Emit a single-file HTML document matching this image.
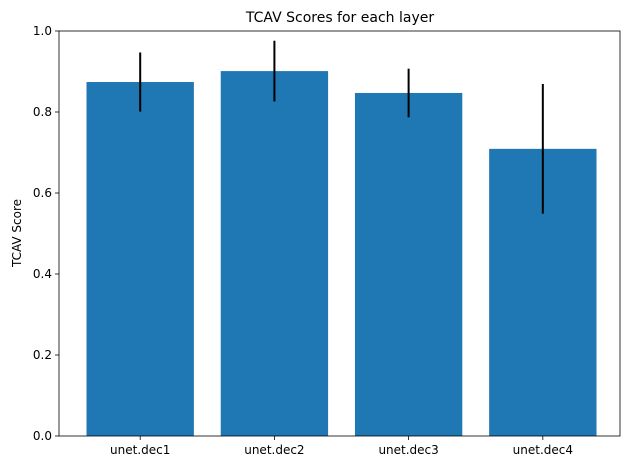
<!DOCTYPE html>
<html><head><meta charset="utf-8"><style>
body{margin:0;background:#fff;font-family:"Liberation Sans","DejaVu Sans",sans-serif}
svg text{font-family:"DejaVu Sans","Liberation Sans",sans-serif;fill:#000}
</style></head><body>
<svg id="chart" width="630" height="470" xmlns="http://www.w3.org/2000/svg">
<text x="340" y="22" font-size="14" text-anchor="middle">TCAV Scores for each layer</text>
<text transform="translate(21,233) rotate(-90)" font-size="12" text-anchor="middle">TCAV Score</text>
<g id="bars"></g><g id="errs"></g><g id="axes"></g>
</svg>
<script>
const categories=["unet.dec1","unet.dec2","unet.dec3","unet.dec4"];
const scores=[0.874,0.901,0.847,0.709];
const errors=[0.073,0.075,0.06,0.16];
const yTicks=[0,0.2,0.4,0.6,0.8,1.0];
const yTickLabels=["0.0","0.2","0.4","0.6","0.8","1.0"];
const NS="http://www.w3.org/2000/svg";
const L=59,R=620,T=31,B=436;
const xmin=-0.605,xmax=3.575;
const x=v=>L+(v-xmin)/(xmax-xmin)*(R-L);
const y=v=>B-v*(B-T);
function mk(tag,attrs,parent){const e=document.createElementNS(NS,tag);for(const k in attrs)e.setAttribute(k,attrs[k]);parent.appendChild(e);return e;}
const gb=document.getElementById('bars'),ge=document.getElementById('errs'),ga=document.getElementById('axes');
categories.forEach((c,i)=>{
 const r=mk('rect',{x:x(i-0.4),y:y(scores[i]),width:x(i+0.4)-x(i-0.4),height:y(0)-y(scores[i]),fill:'#1f77b4'},gb);
 
 
 const l=mk('line',{x1:x(i),x2:x(i),y1:y(scores[i]-errors[i]),y2:y(scores[i]+errors[i]),stroke:'#000','stroke-width':2},ge);
 
 
 mk('line',{x1:x(i),x2:x(i),y1:B,y2:B+4,stroke:'#000','stroke-width':0.8},ga);
 const t=mk('text',{x:x(i),y:B+18,'font-size':12,'text-anchor':'middle'},ga);
 t.textContent=c;
 
 
});
yTicks.forEach((v,i)=>{
 mk('line',{x1:L-4,x2:L,y1:y(v),y2:y(v),stroke:'#000','stroke-width':0.8},ga);
 const t=mk('text',{x:L-7,y:y(v)+4,'font-size':12,'text-anchor':'end'},ga);
 t.textContent=yTickLabels[i];
 
 
});
const f=mk('rect',{x:L,y:T,width:R-L,height:B-T,fill:'none',stroke:'#000','stroke-width':0.8},ga);


</script>
</body></html>
